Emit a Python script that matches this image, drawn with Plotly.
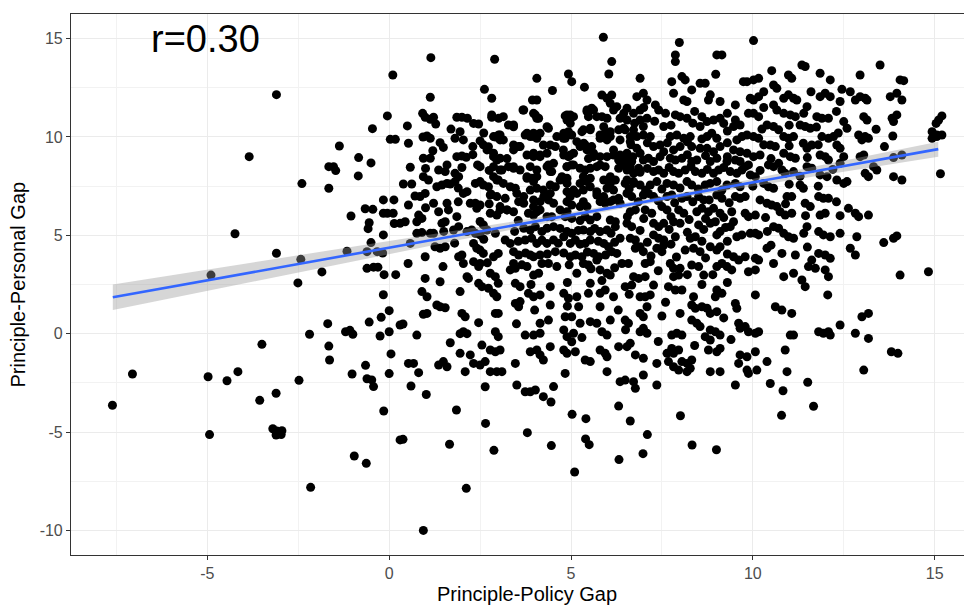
import numpy as np
import plotly.graph_objects as go

# ---- data (x = Principle-Policy Gap, y = Principle-Personal Gap) ----
PTS_LEFT = [(-3.10,12.15),(-3.85,9.0),(-4.24,5.08),(-3.10,4.09),(-4.90,2.98),(-2.40,7.63),(-2.51,2.58),(-1.85,3.14),(-2.43,3.78),(-1.16,4.19),(-1.66,7.39),(-1.66,8.49),(-1.53,8.49),(-1.47,8.29),(-1.37,9.54),(-0.84,8.95),(-0.85,8.02),(-0.50,8.68),(-0.46,10.42),(-1.05,5.98),(-0.66,6.35),(-0.45,6.32),(-0.55,5.64),(-0.58,5.34),(-0.50,4.63),(-0.61,4.17),(-0.33,4.17),(-0.61,3.32),(-0.43,3.38),(-0.31,3.38),(-0.16,6.80),(-0.16,6.12),(-0.05,6.12),(0.11,6.12),(-0.16,5.02),(-0.18,4.1),(-0.14,3.0),(0.18,3.0),(-0.16,1.98),(-0.05,11.07),(0.10,13.15),(0.03,9.88),(0.17,9.88),(0.13,6.8),(0.14,5.6)]
PTS_LEFT_LOW = [(-7.61,-3.64),(-7.06,-2.05),(-4.98,-2.19),(-4.94,-5.13),(-4.46,-2.39),(-4.16,-1.93),(-3.50,-0.54),(-3.56,-3.39),(-3.11,-3.03),(-3.20,-4.83),(-3.09,-4.95),(-2.95,-4.93),(-2.97,-5.13),(-3.11,-5.15),(-2.48,-2.37),(-2.19,-0.03),(-2.16,-7.81),(-1.69,0.51),(-1.66,-0.63),(-1.64,-1.34),(-1.20,0.10),(-1.08,0.17),(-1.00,-0.03),(-1.02,-2.05),(-0.96,-6.22),(-0.63,-6.59),(-0.65,-1.61),(-0.61,-2.29),(-0.48,-2.35),(-0.43,-2.69),(-0.55,0.59),(-0.22,0.83),(-0.25,-0.12),(0.0,1.17),(0.0,0.10),(0.05,-1.03),(0.0,-2.03),(-0.15,-3.93),(0.30,0.44),(0.30,-5.40)]
PTS_BOTTOM = [(0.38,-5.37),(1.66,-5.62),(1.85,-3.88),(2.12,-7.86),(0.94,-10.0),(2.65,-4.56),(2.88,-5.93),(3.80,-5.03),(4.45,-3.47),(4.46,-5.69),(5.03,-4.1),(5.41,-4.32),(5.40,-5.35),(5.50,-5.64),(5.10,-7.03),(6.31,-3.68),(6.32,-6.40),(6.63,-4.44),(7.10,-5.13),(6.98,-6.10),(8.01,-4.17),(8.33,-5.66),(9.00,-5.90),(10.79,-4.15),(11.67,-3.69)]
PTS_A = [(1.146,14.03),(1.13,12.02),(0.50,10.56),(0.92,11.20),(0.99,11.0),(1.13,10.9),(1.22,11.0),(1.28,10.66),(0.93,10.0),(1.04,10.05),(1.13,9.93),(0.53,9.68),(1.40,9.71),(1.49,9.47),(1.86,11.0),(2.00,11.0),(2.15,10.95),(2.32,10.69),(2.46,10.66),(1.81,9.93),(1.95,10.27),(2.04,9.85),(2.30,9.51),(2.50,9.8),(2.62,12.42),(2.82,11.97),(2.90,13.95),(2.82,11.0),(2.92,10.0),(3.01,10.1),(3.05,9.85),(2.59,9.6),(2.73,9.5),(0.94,8.92),(1.13,8.92),(0.58,8.46),(0.94,7.98),(1.08,7.81),(1.36,8.32),(1.59,8.58),(1.54,8.24),(1.86,9.0),(2.0,9.03),(2.12,8.97),(1.81,8.15),(1.91,7.98),(1.81,7.73),(1.31,7.47),(1.45,7.56),(1.59,7.64),(1.68,7.61),(2.43,8.58),(2.50,8.49),(2.87,9.0),(2.96,8.83),(3.05,8.92),(3.10,8.32),(2.37,7.64),(2.50,7.73),(2.59,7.56),(2.73,7.47),(2.87,7.98),(3.0,7.81),(0.39,7.61),(0.62,7.61),(0.53,6.54),(0.85,6.97),(0.99,7.13),(0.71,7.0),(1.22,6.63),(1.36,6.2),(1.59,6.63),(1.63,6.29),(2.04,7.13),(2.14,7.22),(2.23,6.63),(2.37,6.63),(2.50,6.54),(2.41,6.37),(2.78,6.12),(2.96,6.03),(3.05,6.29),(2.5,5.7),(2.59,5.53),(0.30,5.61),(0.44,5.69),(0.76,5.69),(0.90,5.86),(0.81,6.03),(1.45,5.61),(1.54,5.69),(1.86,5.95)]
PTS_B = [(0.76,5.10),(0.90,5.14),(1.13,5.10),(1.22,5.10),(1.77,5.27),(1.91,5.44),(2.14,5.19),(2.27,5.27),(2.37,5.10),(2.50,5.02),(2.69,5.27),(2.92,5.10),(0.58,4.59),(0.99,3.91),(1.26,4.42),(1.40,4.34),(1.54,4.42),(1.91,3.91),(2.0,4.0),(2.32,4.59),(2.41,4.34),(2.5,4.25),(2.59,4.08),(2.87,3.91),(3.0,4.08),(0.52,3.57),(1.48,3.41),(2.04,3.57),(2.14,2.90),(2.18,2.81),(2.32,3.66),(2.50,3.57),(2.46,3.41),(2.78,3.07),(2.92,2.90),(0.99,2.81),(1.40,2.64),(2.46,2.56),(2.55,2.39),(2.73,2.31),(3.0,2.56),(2.87,2.05),(2.96,1.88),(1.95,2.14),(0.90,2.14),(1.04,1.88),(1.31,1.46),(1.40,1.37),(1.54,1.32),(0.94,0.99),(1.04,1.03),(2.0,1.03),(2.09,0.86),(2.46,0.56),(2.92,1.03),(3.0,1.03),(0.38,0.49),(0.76,-0.07),(1.68,-0.46),(1.95,0.0),(2.04,0.1),(2.14,0.0),(1.95,-1.0),(2.23,-1.08),(2.55,-0.58),(2.92,0.1),(3.0,-0.15),(2.78,-0.83),(2.92,-0.92),(3.05,-0.83),(0.53,-1.51),(0.67,-1.51),(0.81,-1.98),(1.36,-1.59),(1.49,-1.42),(1.59,-1.68),(2.09,-1.93),(2.32,-1.51),(2.50,-1.59),(2.64,-1.42),(2.78,-1.93),(2.96,-1.93),(3.10,-1.93),(0.60,-2.66),(1.02,-3.09),(2.64,-2.7)]
PTS_C = [(5.89,15.07),(6.12,13.83),(6.04,13.2),(4.06,12.98),(4.93,13.2),(5.02,12.81),(5.37,12.53),(4.49,12.36),(3.94,11.88),(4.06,11.88),(3.68,11.37),(3.97,11.2),(4.06,10.95),(4.38,10.44),(4.84,11.07),(4.98,11.12),(4.89,10.86),(5.44,11.37),(5.57,11.46),(5.48,11.03),(5.85,12.13),(5.99,11.97),(6.12,12.13),(6.08,11.71),(5.85,11.03),(5.99,10.95),(6.26,11.54),(6.35,10.95),(3.42,10.61),(3.74,10.1),(3.88,10.02),(3.97,10.19),(4.06,9.93),(4.80,10.19),(4.93,10.27),(5.02,10.1),(4.84,9.93),(5.34,10.36),(5.53,10.44),(5.80,10.1),(5.94,10.19),(6.08,10.02),(6.31,10.36),(3.42,9.59),(3.56,9.51),(4.24,9.59),(4.43,9.59),(4.57,9.51),(5.25,9.51),(5.39,9.59),(5.57,9.51),(3.79,9.08),(3.97,9.0),(4.15,9.08),(3.24,8.9),(4.80,9.08),(4.93,9.0),(5.07,9.17),(5.48,8.9),(5.62,9.0),(5.99,9.0),(6.17,9.08),(6.31,8.83),(3.28,8.49),(3.42,8.41),(3.88,8.49),(4.06,8.32),(4.38,8.58),(4.52,8.66),(4.43,8.24),(4.89,8.49),(5.02,8.58),(5.25,8.41),(5.39,8.32),(5.80,8.58),(5.94,8.49),(6.31,8.41),(6.4,8.58),(3.79,7.98),(3.92,7.9),(4.06,7.98),(4.75,7.98),(4.89,7.9),(5.34,7.98),(5.53,7.9),(6.08,7.98),(6.22,7.81),(3.33,7.47),(3.47,7.39),(3.88,7.3),(4.06,7.39),(4.24,7.3),(4.43,7.56),(4.57,7.47),(4.89,7.22),(5.07,7.3),(5.34,7.3),(5.53,7.47),(5.71,7.22),(5.99,7.39),(6.17,7.3)]
PTS_D = [(3.19,6.88),(3.56,6.71),(3.70,6.63),(3.97,6.8),(4.15,6.71),(4.38,6.8),(4.52,6.63),(4.89,6.71),(5.02,6.54),(5.34,6.71),(5.44,6.46),(5.80,6.71),(5.94,6.63),(6.08,6.71),(6.31,6.88),(3.24,6.29),(3.42,6.2),(3.83,6.12),(3.97,6.03),(4.06,6.2),(4.34,5.95),(4.47,5.95),(4.84,5.95),(5.02,5.86),(5.39,5.95),(5.53,5.78),(5.71,5.95),(6.08,5.78),(6.22,5.69),(3.70,5.36),(3.88,5.27),(4.02,5.44),(4.34,5.36),(4.52,5.44),(4.89,5.19),(5.02,5.10),(5.34,5.27),(5.53,5.19),(5.80,5.19),(5.99,5.27),(6.22,5.44),(3.19,4.76),(3.33,4.59),(3.74,4.76),(3.92,4.85),(4.06,4.59),(4.34,4.59),(4.52,4.76),(4.80,4.93),(4.98,4.59),(5.12,4.76),(5.39,4.59),(5.53,4.76),(5.90,4.59),(6.03,4.42),(6.35,4.85),(3.42,4.17),(3.56,4.0),(3.88,4.0),(3.97,3.91),(4.15,4.0),(4.57,4.17),(4.98,3.91),(5.12,4.0),(5.30,3.91),(5.62,4.08),(5.76,3.91),(6.12,4.17),(6.26,4.08),(3.42,3.57),(3.33,3.24),(3.47,3.32),(3.79,3.41),(3.97,2.98),(4.11,3.07),(4.2,3.57),(4.38,3.57),(4.61,3.41),(5.16,3.07),(5.34,3.57),(5.48,3.49),(5.71,3.74),(5.80,3.24),(5.99,3.07),(6.08,2.98),(6.4,3.57)]
PTS_E = [(3.47,2.56),(3.60,2.39),(4.43,2.39),(4.15,1.97),(3.83,2.05),(3.97,1.88),(4.80,2.05),(4.93,1.8),(5.16,1.88),(5.53,2.56),(5.48,2.05),(5.80,2.05),(5.94,2.22),(6.17,1.88),(3.47,1.54),(3.56,1.37),(3.60,1.63),(4.43,1.46),(5.21,1.37),(5.80,1.37),(4.38,0.69),(4.15,0.53),(4.84,0.86),(5.02,0.86),(5.25,0.53),(5.53,0.61),(5.71,0.53),(6.08,0.69),(3.74,-0.07),(3.97,-0.07),(4.15,0.02),(4.80,0.19),(4.89,-0.15),(5.07,0.02),(5.02,-0.41),(5.85,0.1),(5.99,-0.07),(3.88,-0.92),(4.06,-0.83),(4.15,-1.08),(4.43,-0.66),(4.80,-0.83),(4.89,-1.0),(5.12,-0.92),(5.80,-0.83),(5.94,-1.0),(5.99,-1.17),(6.31,-0.66),(3.47,-1.51),(4.24,-1.34),(5.39,-1.34),(5.53,-1.42),(5.99,-1.93),(3.51,-2.61),(3.74,-2.95),(3.88,-2.95),(4.02,-2.86),(4.52,-2.69),(4.84,-2.02),(6.35,-2.44),(4.24,-3.2)]
PTS_F = [(7.98,14.8),(7.87,14.17),(7.87,13.83),(9.01,14.17),(9.15,14.17),(6.90,12.98),(7.77,12.81),(8.05,13.07),(8.14,12.9),(8.55,12.73),(8.69,12.73),(8.98,13.19),(8.32,12.39),(7.82,12.22),(8.10,11.88),(8.19,11.8),(9.74,12.81),(8.83,12.14),(8.78,11.88),(9.10,11.8),(9.52,11.63),(6.81,12.05),(6.99,12.22),(7.09,11.88),(6.54,11.46),(6.72,11.2),(6.90,11.37),(7.32,11.63),(7.41,11.37),(6.90,10.86),(7.09,10.95),(6.99,10.53),(7.55,10.53),(7.87,11.12),(8.0,11.03),(8.19,10.95),(8.6,11.03),(8.74,10.78),(8.55,10.53),(8.92,10.86),(9.10,10.95),(9.20,10.69),(9.47,10.53),(9.65,10.61),(9.52,10.86),(6.49,10.36),(6.63,10.02),(6.81,10.02),(6.99,10.1),(7.18,10.02),(7.73,10.02),(7.91,10.1),(8.10,9.93),(8.28,10.02),(8.74,10.02),(8.87,10.19),(9.01,9.93),(9.56,9.85),(9.70,10.02),(6.81,9.42),(6.90,9.17),(7.27,9.51),(7.45,9.59),(7.55,9.25),(7.82,9.34),(8.0,9.51),(8.32,9.51),(8.55,9.42),(8.74,9.42),(8.92,9.25),(9.10,9.51),(9.47,9.34),(9.65,9.25),(6.54,8.92),(6.67,8.75),(6.99,8.83),(7.13,8.92),(7.27,8.75),(7.73,8.92),(7.87,8.83),(8.05,8.92),(8.32,8.75),(8.46,8.83),(8.83,8.75),(9.01,8.92),(9.29,8.75),(9.52,8.83),(9.65,8.75)]
PTS_G = [(6.54,8.32),(6.72,8.15),(6.86,8.41),(7.27,8.24),(7.41,8.32),(7.55,8.15),(7.82,8.24),(7.96,8.15),(8.14,8.32),(8.42,8.24),(8.6,8.15),(8.92,8.15),(9.06,8.32),(9.38,8.24),(9.56,8.15),(9.70,8.32),(6.49,7.64),(6.72,7.73),(6.90,7.56),(7.18,7.56),(7.36,7.73),(7.64,7.64),(7.82,7.56),(8.19,7.73),(8.32,7.56),(8.69,7.56),(8.83,7.64),(9.01,7.73),(9.29,7.56),(9.52,7.64),(9.65,7.47),(6.54,7.13),(6.67,6.97),(6.99,7.05),(7.13,7.13),(7.27,6.97),(7.64,6.97),(7.77,7.05),(8.05,6.88),(8.19,6.97),(8.51,6.97),(8.65,6.8),(9.01,7.05),(9.15,6.88),(9.52,6.97),(9.65,6.88),(6.63,6.2),(6.77,6.29),(7.04,6.29),(7.22,6.12),(7.5,6.46),(7.64,6.29),(7.96,6.29),(8.10,6.12),(8.46,6.2),(8.6,6.37),(8.78,6.2),(8.92,6.37),(9.10,6.12),(9.42,6.2),(6.54,5.61),(6.67,5.44),(7.27,5.61),(7.41,5.44),(7.55,5.61),(7.82,5.69),(8.0,5.61),(8.51,5.53),(8.83,5.61),(8.97,5.69),(9.47,5.69),(9.38,5.44),(6.63,4.85),(6.77,4.76),(7.27,5.02),(7.41,4.85),(7.55,4.76),(7.87,4.93),(8.28,4.85),(8.42,4.93),(9.01,5.02),(9.10,5.19),(9.56,4.93),(9.70,5.02)]
PTS_H = [(6.77,4.34),(6.90,4.42),(6.99,4.17),(7.36,4.34),(7.5,4.17),(7.55,4.51),(8.14,4.25),(8.37,4.34),(8.55,4.17),(8.83,4.42),(9.01,4.25),(9.10,4.42),(9.47,3.91),(9.61,3.74),(6.58,3.57),(7.04,3.57),(7.18,3.66),(7.73,3.57),(7.82,3.32),(8.0,3.32),(8.32,3.49),(8.51,3.41),(9.01,3.41),(9.15,3.57),(9.29,3.41),(9.42,3.24),(6.72,2.9),(6.86,2.81),(7.04,2.9),(7.82,2.9),(7.96,2.98),(8.65,2.98),(6.49,2.39),(6.67,2.47),(7.27,2.47),(7.68,2.39),(7.87,2.22),(8.05,2.22),(9.01,2.22),(9.15,2.05),(8.97,1.88),(6.9,1.88),(7.04,1.88),(7.18,1.97),(8.37,1.88),(8.32,1.46),(8.42,1.29),(9.52,1.54),(9.56,1.29),(7.09,1.37),(8.0,1.03),(8.6,1.37),(8.74,1.29),(8.83,1.03),(9.01,1.12),(6.9,1.03),(6.99,0.86),(6.49,0.69),(6.58,0.53),(8.32,0.69),(8.46,0.53),(8.55,0.36),(9.61,0.53),(9.65,0.27),(6.9,0.1),(6.99,0.27),(7.09,0.02),(7.77,-0.07),(7.91,0.02),(8.05,-0.07),(8.83,0.19),(8.97,0.1),(9.10,-0.07),(8.69,-0.15),(8.83,-0.32),(6.54,-0.66),(6.63,-0.49),(7.77,-0.75),(7.96,-0.83),(7.82,-1.0),(8.78,-0.83),(9.01,-0.92),(9.10,-0.75),(7.64,-1.0),(7.68,-1.42),(8.05,-1.42),(8.19,-1.51),(8.32,-1.34),(6.77,-1.08),(6.99,-1.25),(7.36,-1.51),(7.82,-1.68),(7.96,-1.85),(8.19,-1.93),(8.28,-1.76),(8.83,-1.93),(9.10,-1.93),(9.65,-1.08),(9.61,-1.51),(6.49,-2.36),(6.72,-2.44),(6.77,-2.78),(6.99,-2.1),(7.36,-2.61),(9.52,-2.61)]
PTS_I = [(10.02,14.9),(11.35,13.66),(11.44,13.58),(10.52,13.37),(9.84,12.81),(10.02,12.9),(10.16,12.98),(10.98,13.15),(11.07,12.98),(11.85,13.24),(12.13,12.9),(12.95,13.15),(10.57,12.64),(10.66,12.47),(12.45,12.42),(12.68,12.3),(9.93,11.97),(10.02,11.88),(10.16,12.05),(10.85,11.97),(10.98,12.14),(11.12,11.97),(11.21,11.88),(11.85,12.05),(11.99,12.22),(12.13,12.05),(11.49,11.54),(12.40,11.8),(12.82,11.88),(12.95,12.05),(10.57,11.63),(10.66,11.37),(9.88,11.2),(10.02,11.2),(10.16,11.03),(10.85,11.2),(11.03,11.12),(11.17,11.03),(11.76,11.03),(11.9,10.95),(12.08,10.95),(12.50,10.78),(12.59,10.44),(13.05,11.03),(10.39,10.61),(10.57,10.53),(10.71,10.36),(11.30,10.61),(11.44,10.53),(11.58,10.44),(9.84,10.1),(10.02,10.02),(10.16,9.93),(10.85,10.02),(10.98,9.93),(11.12,10.02),(11.9,10.02),(12.08,9.93),(12.22,10.02),(12.91,10.1),(13.0,9.85),(10.48,9.59),(10.62,9.51),(11.39,9.68),(11.49,9.42),(11.62,9.59),(12.31,9.59),(12.40,9.42),(9.84,9.17),(10.02,9.0),(10.20,9.08),(10.85,9.17),(11.03,9.0),(11.17,8.92),(11.85,9.08),(11.99,9.0),(12.08,8.83),(12.95,9.0),(13.05,9.08)]
PTS_J = [(10.43,8.58),(10.57,8.49),(10.71,8.66),(9.79,8.49),(9.88,8.58),(11.49,8.49),(11.62,8.41),(12.40,8.66),(9.93,8.07),(10.07,7.98),(10.80,8.32),(10.89,8.15),(11.12,8.24),(11.85,8.07),(12.04,7.98),(12.31,7.81),(12.50,7.64),(12.59,7.73),(10.30,7.64),(10.43,7.47),(10.57,7.39),(11.30,7.56),(11.39,7.39),(10.94,6.97),(11.07,6.97),(9.79,6.97),(11.81,6.97),(11.94,6.88),(12.08,6.88),(10.20,6.8),(10.39,6.63),(10.52,6.54),(10.66,6.46),(11.44,6.63),(11.58,6.46),(12.63,6.37),(12.82,6.12),(12.91,5.95),(9.79,6.12),(9.88,5.95),(10.07,6.03),(10.75,6.2),(10.89,6.03),(11.07,6.12),(11.85,6.03),(11.99,6.12),(11.49,5.44),(10.57,5.44),(10.71,5.36),(9.93,5.10),(10.07,5.10),(10.16,5.02),(10.85,5.10),(10.98,4.93),(11.12,4.85),(11.81,5.19),(11.94,5.02),(12.13,4.93),(12.86,4.93),(10.39,4.34),(12.68,4.34),(12.82,4.0),(9.79,3.91),(10.07,3.83),(10.16,3.74),(10.80,4.08),(11.17,4.0),(11.81,4.08),(11.99,4.0),(12.13,3.83),(10.57,3.57),(11.62,3.74),(11.53,3.41),(11.72,3.32),(9.88,3.15),(10.07,3.24),(10.85,2.9),(11.12,3.07),(11.99,3.24),(12.08,2.9),(11.35,2.73),(11.44,2.39),(10.07,1.97),(12.06,1.97),(10.62,1.37),(10.80,1.20),(11.07,1.03),(13.0,0.86),(9.79,0.36),(12.40,0.44),(9.88,0.10),(10.07,0.02),(10.16,0.10),(11.03,-0.07),(11.12,-0.07),(11.81,0.10),(11.94,0.02),(12.08,0.10),(12.13,-0.07),(12.82,0.02),(10.89,-0.83),(9.84,-1.17),(10.07,-0.92),(10.39,-1.42),(9.84,-1.85),(9.88,-2.02),(10.11,-1.85),(10.94,-1.93),(10.48,-2.53),(10.83,-2.9),(11.51,-2.47),(13.05,-1.85)]
PTS_K = [(13.50,13.66),(14.05,12.9),(14.15,12.86),(13.09,11.97),(13.14,11.88),(13.78,12.05),(13.96,12.22),(14.10,11.88),(13.14,10.86),(13.83,10.95),(13.96,11.12),(13.87,10.78),(15.2,11.07),(15.11,10.86),(15.04,10.69),(13.09,10.02),(13.18,9.93),(13.39,10.39),(13.85,10.05),(14.93,10.27),(15.06,10.1),(15.2,10.1),(14.93,9.93),(15.06,10.02),(13.62,9.51),(13.87,8.95),(14.10,9.08),(13.32,8.49),(13.41,8.32),(13.09,8.15),(13.18,7.98),(13.87,7.98),(14.10,7.81),(15.16,8.13),(13.18,6.03),(13.60,4.63),(13.87,4.85),(13.96,4.97),(14.05,2.98),(14.83,3.15),(13.18,1.03),(13.18,-0.24),(13.81,-0.92),(13.99,-1.0)]
# overlapping dots inside the dense clumps of the core (estimated from the clump extents)
PTS_CORE_UPPER = [(2.82,11.12),(3.01,10.95),(3.14,11.03),(3.70,11.37),(4.02,11.12),(4.11,10.95),(4.89,11.12),(5.07,11.03),(4.98,10.69),(5.44,11.29),(5.62,11.37),(5.71,11.03),(6.17,11.37),(6.45,11.2),(6.54,10.86),(3.28,10.61),(3.42,10.52),(4.34,10.52),(5.30,10.27),(5.53,10.36),(5.90,10.52),(6.08,10.27),(6.45,10.44),(6.72,10.36),(2.87,10.02),(3.05,10.1),(3.14,9.85),(3.79,10.19),(3.97,10.02),(4.15,10.19),(4.61,10.02),(4.79,9.93),(5.16,9.76),(5.35,9.68),(5.80,9.93),(5.99,9.85),(6.35,9.85),(6.63,9.76),(2.69,9.34),(2.87,9.17),(3.42,9.34),(3.60,9.51),(3.97,9.17),(4.15,9.0),(4.34,9.17),(4.79,9.34),(4.98,9.08),(5.44,9.34),(5.62,9.17),(5.80,9.0),(6.17,9.34),(6.35,9.08),(6.54,9.17),(2.87,8.49),(3.05,8.32),(3.42,8.49),(3.60,8.32),(4.34,8.49),(4.47,8.24),(4.89,8.49),(5.07,8.58),(5.53,8.41),(5.71,8.49),(6.45,8.66),(6.63,8.49),(2.96,7.81),(3.14,7.64),(3.79,7.9),(3.97,7.73),(4.70,7.81),(4.89,7.64),(5.25,7.64),(5.44,7.73),(5.90,7.81),(6.08,7.64),(6.54,7.81),(6.72,7.64),(2.78,7.05),(2.96,6.97),(3.51,7.13),(3.70,6.97),(4.25,6.97),(4.43,7.13),(4.98,6.97),(5.16,7.13),(5.71,7.05),(5.90,6.97),(6.17,6.80),(6.35,6.63),(3.05,6.46),(3.24,6.29),(3.97,6.46),(4.15,6.29),(4.70,6.29),(4.89,6.2),(5.25,6.46)]
PTS_CORE_MID = [(3.55,5.75),(5.25,5.75),(3.45,5.2),(4.2,5.2),(4.7,5.35),(5.2,5.25),(5.65,5.35),(6.1,5.1),(3.55,4.7),(4.2,4.75),(4.65,4.6),(5.25,4.55),(5.75,4.7),(6.2,4.65),(3.75,4.1),(4.35,4.05),(4.8,4.1),(5.45,4.15),(5.95,4.0),(3.65,3.5),(4.95,3.5),(5.55,3.3),(6.2,3.35)]
PTS_CORE_RIGHT = [(7.0,11.5),(7.6,11.2),(8.4,11.3),(9.3,11.2),(6.75,10.7),(7.3,10.8),(7.75,10.6),(8.35,10.7),(9.3,10.3),(6.65,9.6),(7.1,9.7),(7.65,9.7),(8.2,9.75),(8.6,9.9),(9.3,9.7),(6.7,9.0),(7.45,9.0),(8.2,9.1),(8.7,9.05),(9.3,9.0),(6.9,8.2),(7.1,8.4),(7.7,8.45),(8.3,8.5),(8.75,8.35),(9.2,8.45),(6.6,7.35),(7.05,7.3),(7.5,7.35),(8.0,7.4),(8.5,7.35),(9.15,7.3),(6.85,6.7),(7.4,6.75),(7.85,6.65),(8.35,6.7),(8.8,6.8),(9.35,6.65),(6.55,5.95),(7.0,5.85),(7.75,5.95),(8.25,5.8),(8.7,5.85),(9.2,5.9),(6.9,5.25),(7.7,5.3),(8.2,5.15),(8.65,5.3),(9.25,5.4),(7.1,4.65),(7.75,4.55),(8.6,4.7),(9.3,4.7),(7.2,3.95),(7.9,3.9),(8.7,3.85),(9.3,4.05),(7.4,3.2),(8.2,3.0),(8.9,3.0)]
PTS_CORE_FAR = [(10.3,12.3),(11.6,12.3),(10.3,11.5),(11.4,11.2),(12.3,11.3),(10.25,10.4),(11.0,10.6),(11.75,10.5),(12.35,10.2),(10.3,9.6),(11.0,9.55),(11.8,9.6),(10.5,8.9),(11.5,8.95),(12.5,9.0),(10.2,8.3),(11.3,8.0),(12.2,8.35),(10.0,7.5),(11.0,7.6),(11.8,7.5),(10.9,6.6),(12.3,6.7),(10.35,5.9),(11.45,6.0),(12.4,6.0),(10.4,5.2),(11.4,5.1),(12.4,5.1),(10.5,4.5),(11.5,4.4)]
PTS_CORE_NEAR = [(1.7,10.4),(2.6,10.2),(1.2,9.3),(2.3,9.1),(1.0,8.4),(2.0,8.45),(2.75,8.3),(1.9,7.4),(2.8,7.1),(1.0,6.4),(1.9,6.7),(2.75,6.6),(1.5,5.2),(2.6,4.8),(1.8,4.6),(2.7,3.6)]
PTS_CORE_LOW = [(3.9,2.5),(4.9,2.6),(5.85,2.7),(6.6,2.0),(7.6,1.6),(8.6,2.5),(9.3,2.6),(4.0,1.2),(4.9,1.4),(6.3,1.2),(7.5,0.9),(9.2,0.8),(3.5,0.5),(5.3,-0.2),(6.5,0.2),(7.4,-0.4),(8.4,-0.6),(9.4,-0.3)]

GROUPS = [PTS_LEFT, PTS_LEFT_LOW, PTS_BOTTOM, PTS_A, PTS_B, PTS_C, PTS_D, PTS_E,
          PTS_F, PTS_G, PTS_H, PTS_I, PTS_J, PTS_K,
          PTS_CORE_UPPER, PTS_CORE_MID, PTS_CORE_RIGHT, PTS_CORE_FAR, PTS_CORE_NEAR, PTS_CORE_LOW]

# linear fit as drawn in the picture (geom_smooth, method = "lm"): ends of the line,
# and the half-width of the grey confidence band read at three x positions
FIT_X_ENDS = [-7.6, 15.1]
FIT_Y_ENDS = [1.85, 9.38]
BAND_READ_X = [-7.6, 6.9, 15.1]
BAND_READ_HALFWIDTH = [0.65, 0.12, 0.38]

X_TICKS = [-5, 0, 5, 10, 15]
X_TICK_TEXT = ["-5", "0", "5", "10", "15"]
Y_TICKS = [-10, -5, 0, 5, 10, 15]
Y_TICK_TEXT = ["-10", "-5", "0", "5", "10", "15"]
ANNOT_TEXT = "r=0.30"
X_TITLE = "Principle-Policy Gap"
Y_TITLE = "Principle-Personal Gap"

pts = np.array([p for g in GROUPS for p in g], dtype=float)
x = pts[:, 0]
y = pts[:, 1]

# regression line and band (standard-error shape sqrt(a^2 + b^2 (x-c)^2))
slope = (FIT_Y_ENDS[1] - FIT_Y_ENDS[0]) / (FIT_X_ENDS[1] - FIT_X_ENDS[0])
intercept = FIT_Y_ENDS[0] - slope * FIT_X_ENDS[0]
c = BAND_READ_X[1]
a = BAND_READ_HALFWIDTH[1]
b_left = np.sqrt(BAND_READ_HALFWIDTH[0] ** 2 - a ** 2) / abs(BAND_READ_X[0] - c)
b_right = np.sqrt(BAND_READ_HALFWIDTH[2] ** 2 - a ** 2) / abs(BAND_READ_X[2] - c)
b = 0.5 * (b_left + b_right)
xs = np.linspace(FIT_X_ENDS[0], FIT_X_ENDS[1], 80)
ys = slope * xs + intercept
hw = np.sqrt(a ** 2 + (b * (xs - c)) ** 2)
lo = ys - hw
hi = ys + hw

fig = go.Figure()
fig.add_trace(go.Scatter(x=x, y=y, mode="markers",
                         marker=dict(color="black", size=9, line=dict(width=0)),
                         hoverinfo="skip", showlegend=False))
fig.add_trace(go.Scatter(x=np.concatenate([xs, xs[::-1]]), y=np.concatenate([hi, lo[::-1]]),
                         fill="toself", fillcolor="rgba(153,153,153,0.4)",
                         line=dict(width=0), mode="lines", hoverinfo="skip", showlegend=False))
fig.add_trace(go.Scatter(x=xs, y=ys, mode="lines", line=dict(color="#3366FF", width=2.6),
                         hoverinfo="skip", showlegend=False))

font_family = "Liberation Sans, Arial, sans-serif"
axis_common = dict(
    automargin=False,
    showgrid=True, gridcolor="#ebebeb", gridwidth=1.1,
    zeroline=False, showline=True, linecolor="#333333", linewidth=1.1,
    ticks="outside", ticklen=4, tickwidth=1.1, tickcolor="#333333",
    tickfont=dict(family=font_family, size=16, color="#4d4d4d"),
    minor=dict(showgrid=True, gridcolor="#f2f2f2", gridwidth=0.8, ticks=""),
)

# the page places the figure 8 px in from its top-left corner, so the figure is
# 8 px smaller than the window and its margins are set 8 px tighter
fig.update_layout(
    width=964, height=598,
    margin=dict(l=63, r=1, t=6, b=51, autoexpand=False),
    plot_bgcolor="white", paper_bgcolor="white",
    font=dict(family=font_family),
    xaxis=dict(range=[-8.75, 16.0], tickvals=X_TICKS, ticktext=X_TICK_TEXT, mirror=True, **axis_common),
    yaxis=dict(range=[-11.25, 16.25], tickvals=Y_TICKS, ticktext=Y_TICK_TEXT, mirror=False, **axis_common),
    annotations=[
        dict(x=-5.06, y=15.0, xref="x", yref="y", text=ANNOT_TEXT, showarrow=False,
             font=dict(family=font_family, size=38, color="black"),
             xanchor="center", yanchor="middle"),
        dict(x=0.5067, y=-0.072, xref="paper", yref="paper", text=X_TITLE, showarrow=False,
             font=dict(family=font_family, size=20, color="black"),
             xanchor="center", yanchor="middle"),
        dict(x=-0.0589, y=0.5, xref="paper", yref="paper", text=Y_TITLE, showarrow=False,
             textangle=-90,
             font=dict(family=font_family, size=20, color="black"),
             xanchor="center", yanchor="middle"),
    ],
)
fig.update_xaxes(minor_dtick=2.5, minor_tick0=0)
fig.update_yaxes(minor_dtick=2.5, minor_tick0=0)

fig.write_html("out.html")
